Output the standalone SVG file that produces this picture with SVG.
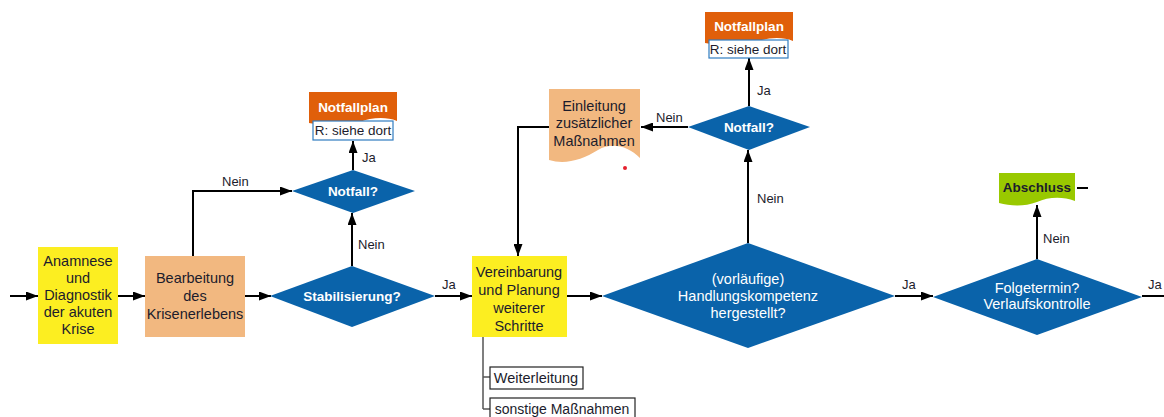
<svg xmlns="http://www.w3.org/2000/svg" width="1164" height="417" viewBox="0 0 1164 417">
  <defs>
    <marker id="arrow" markerUnits="userSpaceOnUse" markerWidth="13" markerHeight="9" refX="12" refY="4.5" orient="auto">
      <path d="M0,0 L12,4.5 L0,9 Z" fill="#000"/>
    </marker>
    <style>
      text { font-family: "Liberation Sans", Arial, sans-serif; font-size: 14.5px; text-anchor: middle; fill: #1c1c2c; }
      .w { fill: #ffffff; }
      .b { font-weight: bold; font-size: 13.5px; }
      .lbl { text-anchor: start; font-size: 13px; }
      .small { font-size: 13.5px; }
      .yellow { fill: #fcee21; }
      .peach { fill: #f2b880; }
      .dia { fill: #0a63aa; }
      .alarm { fill: #e05f0a; }
      .ref { fill: #ffffff; stroke: #2f7cc0; stroke-width: 1.2; }
      .sub { fill: #ffffff; stroke: #222; stroke-width: 1.2; }
      .con { fill: none; stroke: #000; stroke-width: 2; }
    </style>
  </defs>
  <rect width="1164" height="417" fill="#ffffff"/>

  <!-- connectors -->
  <g id="connectors">
    <path class="con" d="M10,296 H38" marker-end="url(#arrow)"/>
    <path class="con" d="M118,296 H145" marker-end="url(#arrow)"/>
    <path class="con" d="M245,296 H271" marker-end="url(#arrow)"/>
    <path class="con" d="M193,256 V191 H292" marker-end="url(#arrow)"/>
    <path class="con" d="M352,266 V213" marker-end="url(#arrow)"/>
    <path class="con" d="M353,170 V141" marker-end="url(#arrow)"/>
    <path class="con" d="M435,296 H472" marker-end="url(#arrow)"/>
    <path class="con" d="M549,127 H518 V256" marker-end="url(#arrow)"/>
    <path class="con" d="M567,296 H602" marker-end="url(#arrow)"/>
    <path class="con" d="M748,243 V150" marker-end="url(#arrow)"/>
    <path class="con" d="M688,127 H641" marker-end="url(#arrow)"/>
    <path class="con" d="M749,106 V58" marker-end="url(#arrow)"/>
    <path class="con" d="M895,296 H933" marker-end="url(#arrow)"/>
    <path class="con" d="M1037,259 V205" marker-end="url(#arrow)"/>
    <path class="con" d="M1142,296 H1164"/>
    <path class="con" d="M1077,188 H1088"/>
    <path d="M483,337 V409 M483,377 H490 M483,409 H490" fill="none" stroke="#555" stroke-width="1.5"/>
    <text class="lbl" x="222" y="186">Nein</text>
    <text class="lbl" x="358" y="249">Nein</text>
    <text class="lbl" x="362" y="162">Ja</text>
    <text class="lbl" x="442" y="289">Ja</text>
    <text class="lbl" x="757" y="203">Nein</text>
    <text class="lbl" x="656" y="122">Nein</text>
    <text class="lbl" x="757" y="95">Ja</text>
    <text class="lbl" x="902" y="289">Ja</text>
    <text class="lbl" x="1043" y="243">Nein</text>
    <text class="lbl" x="1148" y="289">Ja</text>
  </g>

  <!-- intake -->
  <g id="anamnese">
    <rect class="yellow" x="38" y="247" width="80" height="97"/>
    <text x="78" y="266">Anamnese</text>
    <text x="78" y="283">und</text>
    <text x="78" y="300">Diagnostik</text>
    <text x="78" y="317">der akuten</text>
    <text x="78" y="334">Krise</text>
  </g>

  <g id="bearbeitung">
    <rect class="peach" x="145" y="256" width="100" height="81"/>
    <text x="195" y="283">Bearbeitung</text>
    <text x="195" y="301">des</text>
    <text x="195" y="319">Krisenerlebens</text>
  </g>

  <g id="stabilisierung">
    <polygon class="dia" points="270,296 352,266 435,296 352,327"/>
    <text class="w b" x="352" y="301">Stabilisierung?</text>
  </g>

  <g id="notfall1">
    <polygon class="dia" points="292,191 353,170 415,191 353,213"/>
    <text class="w b" x="353" y="196">Notfall?</text>
  </g>

  <g id="notfallplan1">
    <path class="alarm" d="M309,92 H397 V121 C385,116 370,118 360,122 C345,127 325,126 309,123 Z"/>
    <text class="w b" x="353" y="112">Notfallplan</text>
    <rect class="ref" x="313" y="121" width="80" height="19"/>
    <text class="small" x="353" y="135">R: siehe dort</text>
  </g>

  <g id="vereinbarung">
    <rect class="yellow" x="472" y="256" width="95" height="81"/>
    <text x="519" y="277">Vereinbarung</text>
    <text x="519" y="295">und Planung</text>
    <text x="519" y="313">weiterer</text>
    <text x="519" y="331">Schritte</text>
  </g>

  <g id="weiterleitung">
    <rect class="sub" x="490" y="367" width="93" height="22"/>
    <text x="536" y="383">Weiterleitung</text>
  </g>

  <g id="sonstige">
    <rect class="sub" x="490" y="398" width="145" height="22"/>
    <text x="562" y="414" style="font-size:14px">sonstige Maßnahmen</text>
  </g>

  <g id="handlungskompetenz">
    <polygon class="dia" points="602,296 748,243 895,296 748,348"/>
    <text class="w" x="748" y="284">(vorläufige)</text>
    <text class="w" x="748" y="301">Handlungskompetenz</text>
    <text class="w" x="748" y="318">hergestellt?</text>
  </g>

  <g id="notfall2">
    <polygon class="dia" points="688,127 749,106 810,127 749,150"/>
    <text class="w b" x="749" y="132">Notfall?</text>
  </g>

  <g id="einleitung">
    <path class="peach" d="M549,89 H640 V158 C628,146 612,142 598,150 C582,160 565,165 549,160 Z"/>
    <text x="594" y="111">Einleitung</text>
    <text x="594" y="128">zusätzlicher</text>
    <text x="594" y="146">Maßnahmen</text>
    <circle cx="625" cy="168" r="2" fill="#e5202e"/>
  </g>

  <g id="notfallplan2">
    <path class="alarm" d="M705,12 H793 V41 C781,36 766,38 756,42 C741,47 721,46 705,43 Z"/>
    <text class="w b" x="749" y="31">Notfallplan</text>
    <rect class="ref" x="709" y="40" width="79" height="18"/>
    <text class="small" x="748" y="54">R: siehe dort</text>
  </g>

  <g id="folgetermin">
    <polygon class="dia" points="933,297 1037,259 1142,297 1037,335"/>
    <text class="w" x="1037" y="293">Folgetermin?</text>
    <text class="w" x="1037" y="309">Verlaufskontrolle</text>
  </g>

  <g id="abschluss">
    <path d="M999,173 H1075 V201 C1062,196 1048,197 1037,202 C1024,207 1010,206 999,203 Z" fill="#99c900"/>
    <text class="b" x="1037" y="192">Abschluss</text>
  </g>
</svg>
